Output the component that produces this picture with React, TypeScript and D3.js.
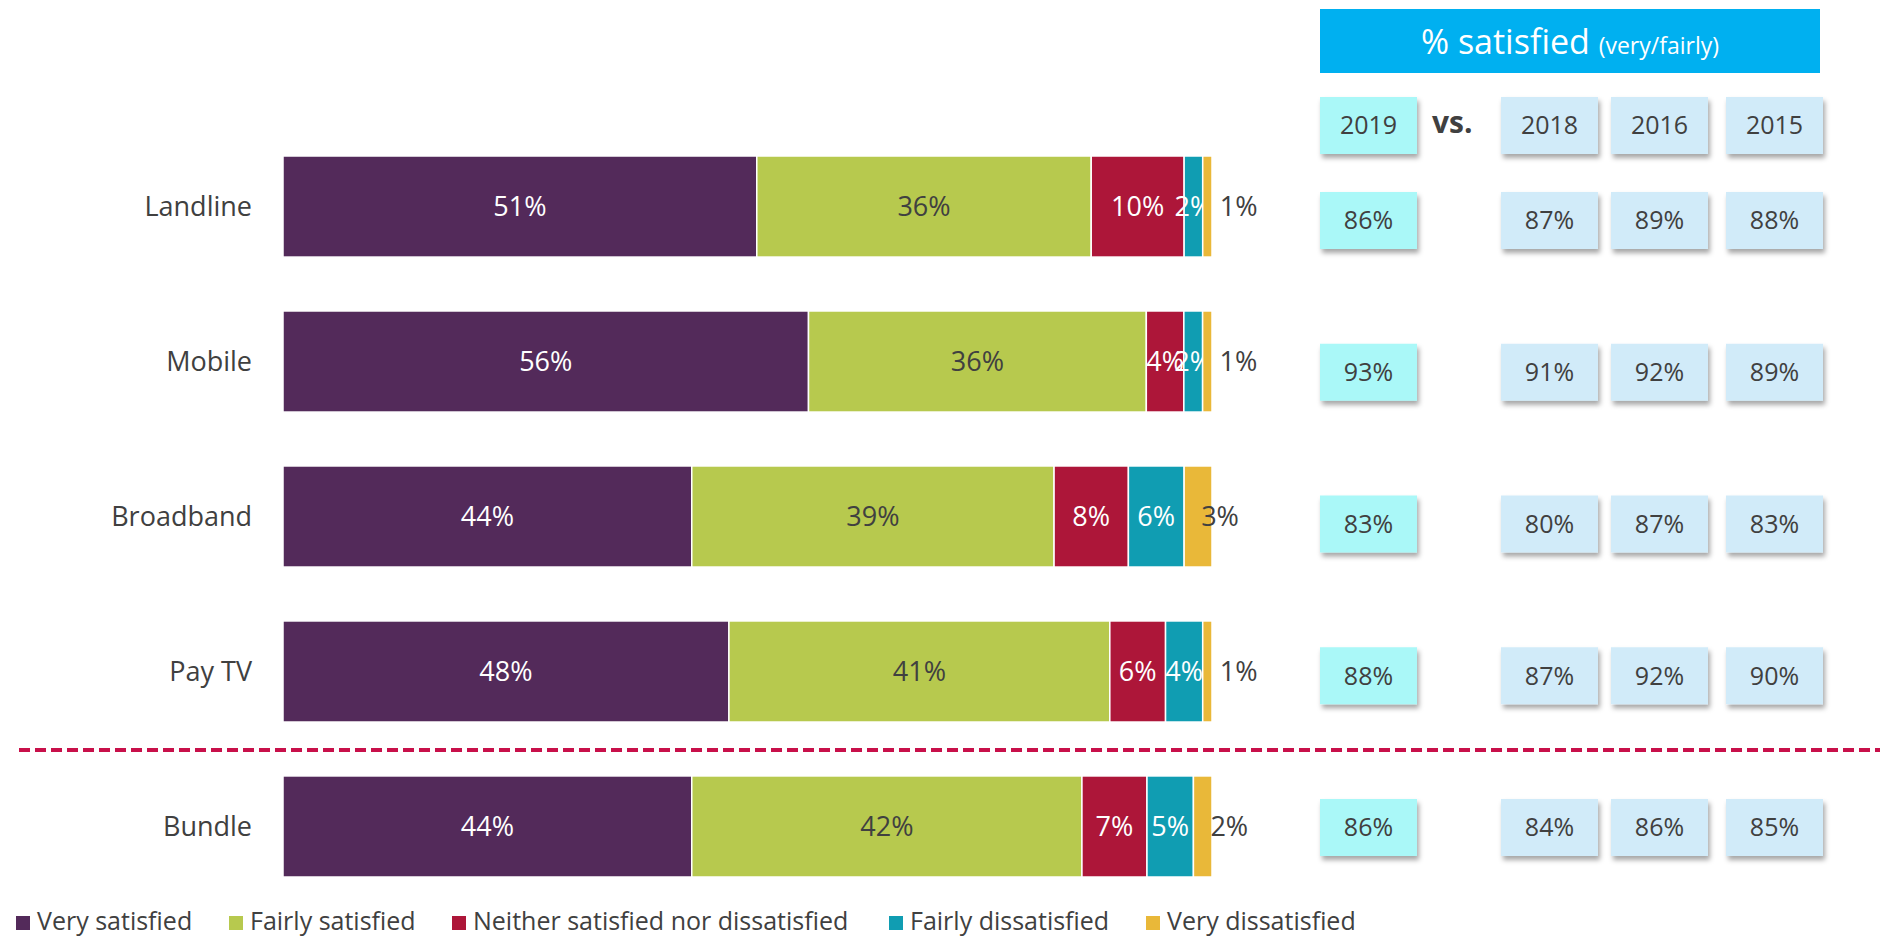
import React from "react";
import * as d3 from "d3";

const categories = ["Landline", "Mobile", "Broadband", "Pay TV", "Bundle"];
const seriesNames = [
  "Very satisfied",
  "Fairly satisfied",
  "Neither satisfied nor dissatisfied",
  "Fairly dissatisfied",
  "Very dissatisfied",
];
const verySatisfied = [51, 56, 44, 48, 44];
const fairlySatisfied = [36, 36, 39, 41, 42];
const neither = [10, 4, 8, 6, 7];
const fairlyDissatisfied = [2, 2, 6, 4, 5];
const veryDissatisfied = [1, 1, 3, 1, 2];

const years = ["2019", "2018", "2016", "2015"];
const sat2019 = [86, 93, 83, 88, 86];
const sat2018 = [87, 91, 80, 87, 84];
const sat2016 = [89, 92, 87, 92, 86];
const sat2015 = [88, 89, 83, 90, 85];

const colors = ["#532A5A", "#B7C94E", "#AD1639", "#109DB2", "#E9B839"];
const labelColors = ["#fff", "#404040", "#fff", "#fff", "#404040"];
const FONT = "'Open Sans', sans-serif";
const TEXT = "#404040";

export default function App() {
  const W = 1883, H = 944;
  const rows = categories.map((c, i) => ({
    cat: c,
    s0: verySatisfied[i],
    s1: fairlySatisfied[i],
    s2: neither[i],
    s3: fairlyDissatisfied[i],
    s4: veryDissatisfied[i],
  }));
  const keys = ["s0", "s1", "s2", "s3", "s4"];
  const stacked = d3.stack().keys(keys).offset(d3.stackOffsetExpand)(rows as any);

  const x = d3.scaleLinear().domain([0, 1]).range([283, 1212]);
  const y = d3.scaleBand().domain(categories).range([156, 877]).paddingInner(0.348).paddingOuter(0);

  // right-hand panel
  const colX = d3.scaleOrdinal<string, number>().domain(years).range([1320, 1501, 1611, 1726]);
  const rowY = d3.scalePoint().domain(categories).range([192, 799]);
  const boxW = 97, boxH = 57;
  const satValues = [sat2019, sat2018, sat2016, sat2015];

  const legendX = [16, 229, 452, 889, 1146];

  return (
    <svg width={W} height={H} style={{ position: "absolute", left: 0, top: 0 }} fontFamily={FONT}>
      <defs>
        <filter id="shadow" x="-20%" y="-20%" width="150%" height="160%">
          <feDropShadow dx="2" dy="4" stdDeviation="2.5" floodColor="#000" floodOpacity="0.35" />
        </filter>
      </defs>
      <rect width={W} height={H} fill="#fff" />

      {/* category labels */}
      {categories.map((c) => (
        <text key={c} x={252} y={y(c)! + y.bandwidth() / 2} dy="0.35em" textAnchor="end"
          fontSize={27} fill={TEXT}>{c}</text>
      ))}

      {/* stacked bars */}
      {stacked.map((layer, si) => (
        <g key={si}>
          {layer.map((d, i) => {
            const cat = categories[i];
            const x0 = x(d[0]), x1 = x(d[1]);
            const val = (rows[i] as any)[keys[si]];
            const cy = y(cat)! + y.bandwidth() / 2;
            const last = si === 4;
            return (
              <g key={cat}>
                <rect x={x0} y={y(cat)} width={x1 - x0} height={y.bandwidth()} fill={colors[si]}
                  stroke="#fff" strokeWidth={1.5} />
                <text x={last ? x0 + 17 : (x0 + x1) / 2} y={cy} dy="0.35em"
                  textAnchor={last ? "start" : "middle"} fontSize={27}
                  fill={labelColors[si]}>{val}%</text>
              </g>
            );
          })}
        </g>
      ))}

      {/* divider */}
      <line x1={19} x2={1880} y1={750} y2={750} stroke="#C8104A" strokeWidth={4} strokeDasharray="11,5" />

      {/* header */}
      <rect x={1320} y={9} width={500} height={64} fill="#00B0F0" />
      <text x={1570} y={54} textAnchor="middle" fill="#fff">
        <tspan fontSize={34}>% satisfied </tspan>
        <tspan fontSize={23}>(very/fairly)</tspan>
      </text>

      {years.map((yr, j) => (
        <g key={yr}>
          <rect x={colX(yr)} y={97} width={boxW} height={boxH} fill={j === 0 ? "#AAF8F8" : "#D1EBF9"}
            filter="url(#shadow)" />
          <text x={colX(yr) + boxW / 2} y={97 + boxH / 2} dy="0.35em" textAnchor="middle"
            fontSize={25} fill={TEXT}>{yr}</text>
        </g>
      ))}
      <text x={1432} y={133} fontSize={30} fontWeight="bold" fill={TEXT}>vs.</text>

      {categories.map((c, i) => (
        <g key={c}>
          {years.map((yr, j) => (
            <g key={yr}>
              <rect x={colX(yr)} y={rowY(c)} width={boxW} height={boxH}
                fill={j === 0 ? "#AAF8F8" : "#D1EBF9"} filter="url(#shadow)" />
              <text x={colX(yr) + boxW / 2} y={rowY(c)! + boxH / 2} dy="0.35em" textAnchor="middle"
                fontSize={25} fill={TEXT}>{satValues[j][i]}%</text>
            </g>
          ))}
        </g>
      ))}

      {/* legend */}
      {seriesNames.map((s, i) => (
        <g key={s}>
          <rect x={legendX[i]} y={916} width={14} height={14} fill={colors[i]} />
          <text x={legendX[i] + 21} y={930} fontSize={25} fill={TEXT}>{s}</text>
        </g>
      ))}
    </svg>
  );
}
